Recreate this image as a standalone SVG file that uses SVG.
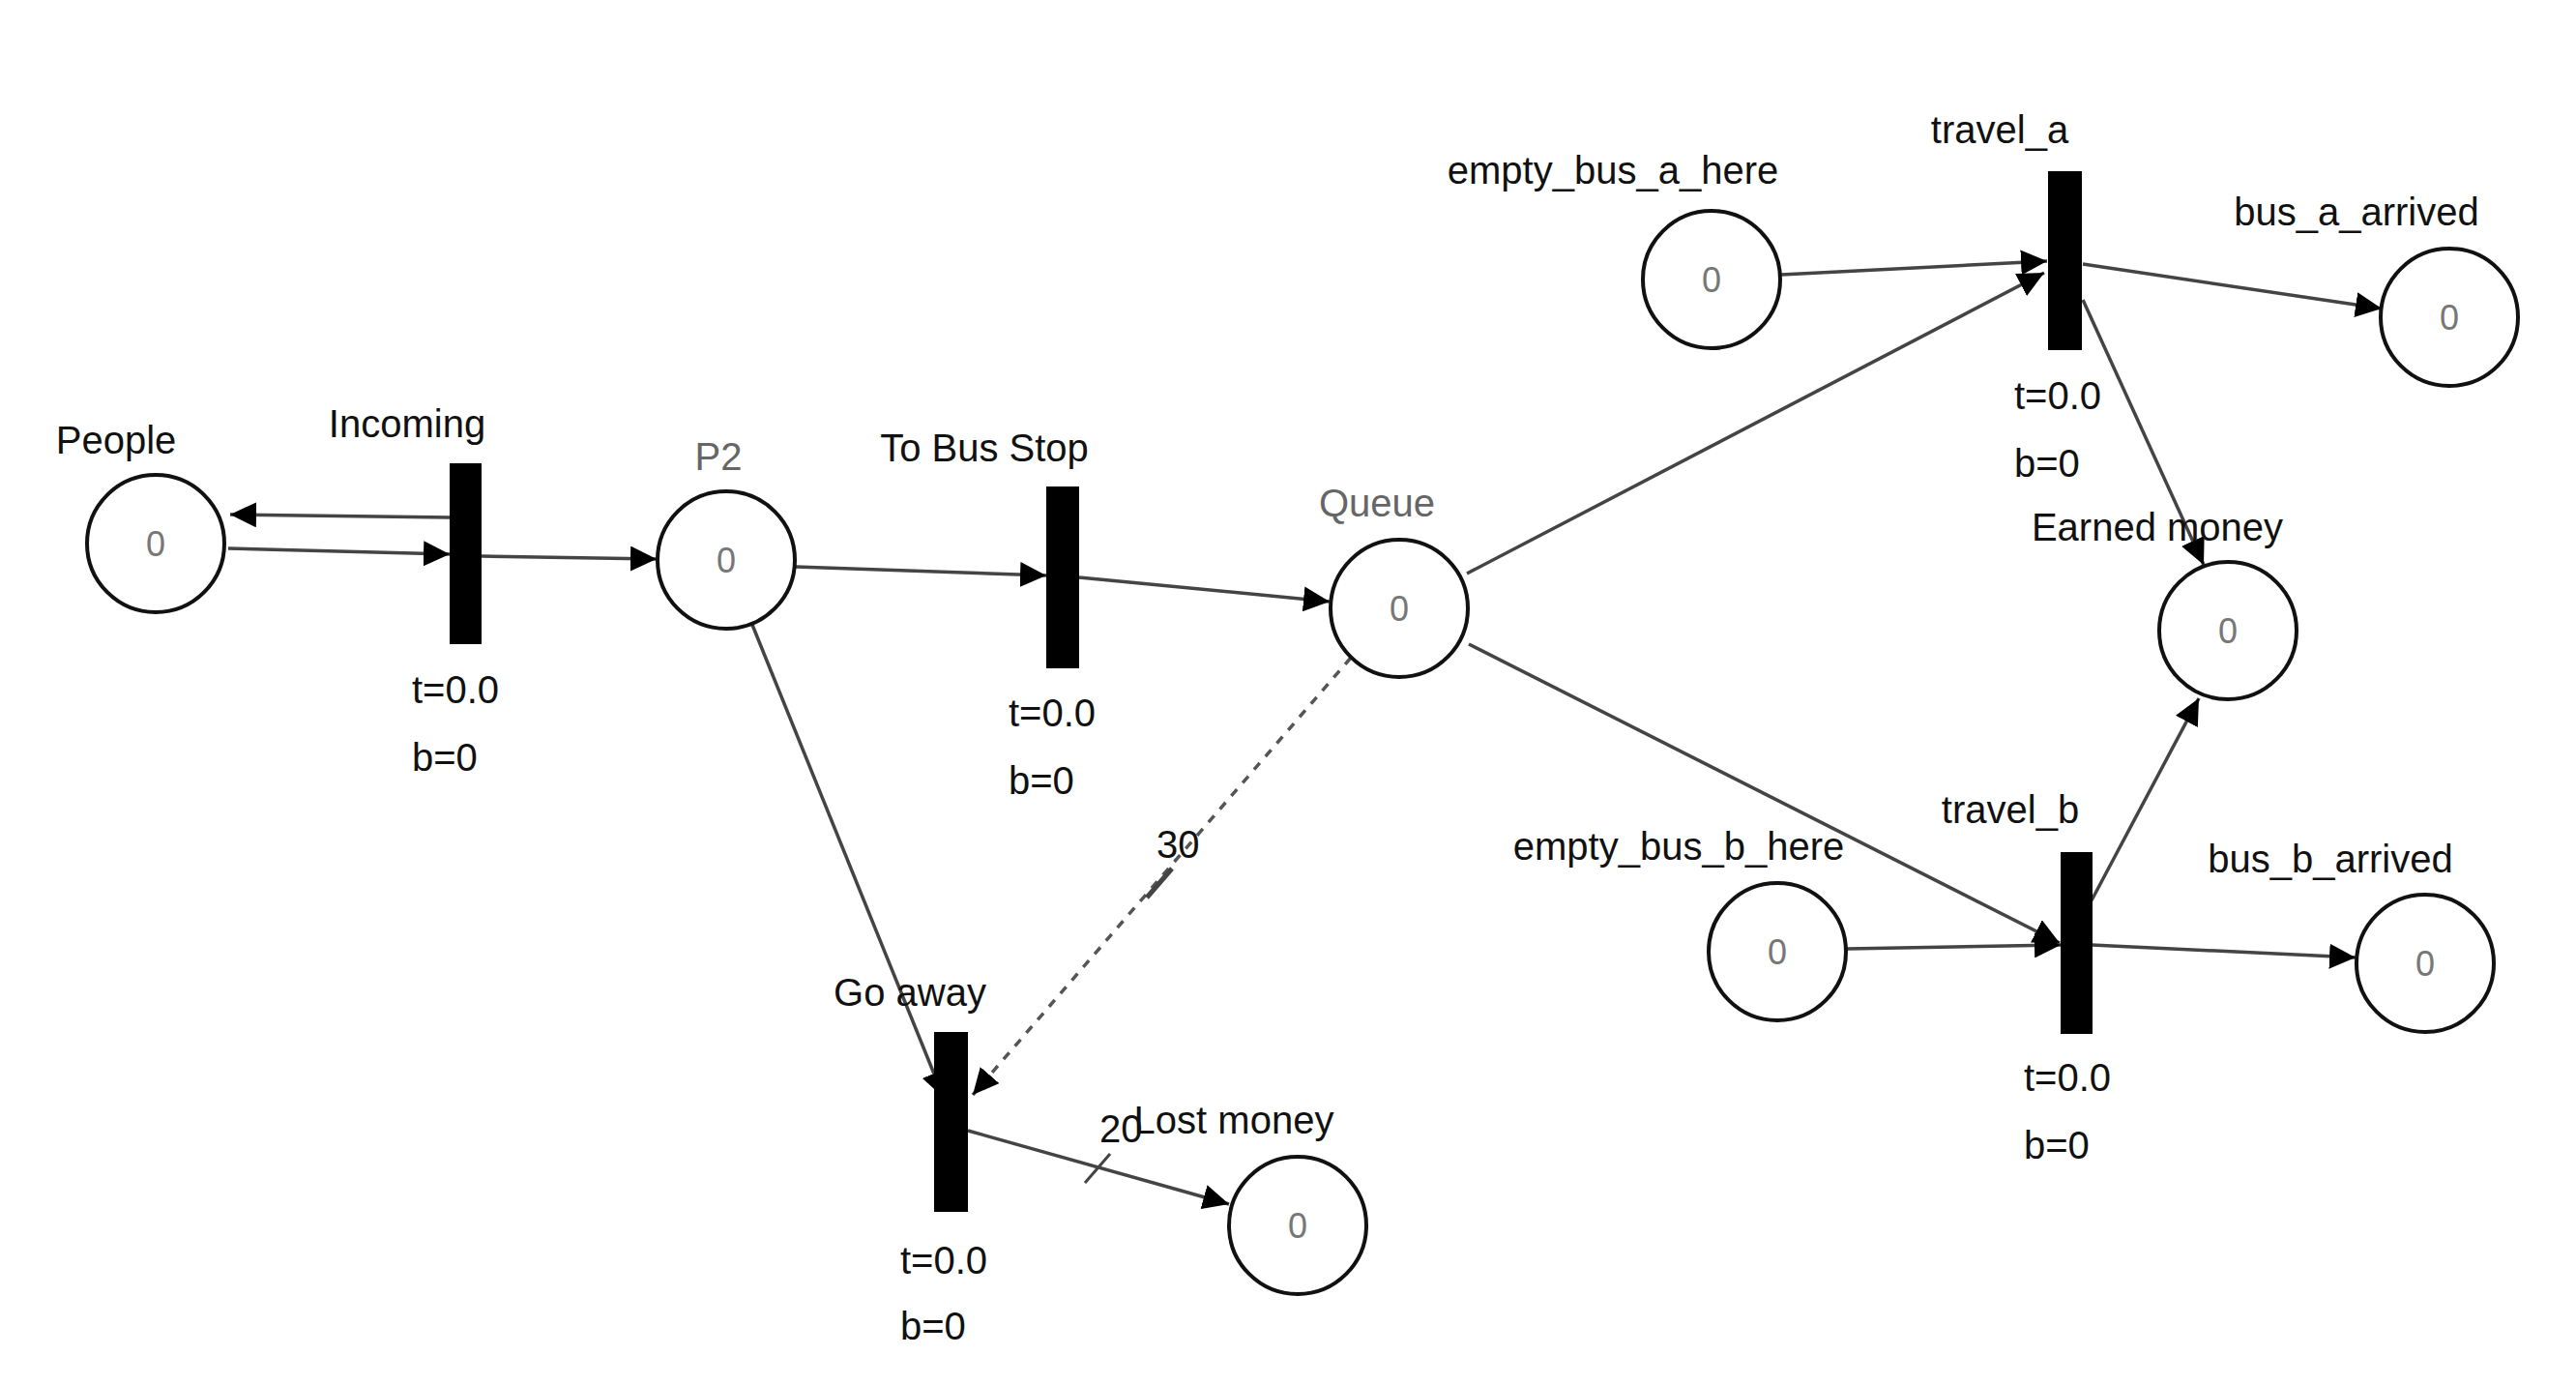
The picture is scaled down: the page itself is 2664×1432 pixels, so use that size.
<svg xmlns="http://www.w3.org/2000/svg" width="2664" height="1432" viewBox="0 0 2664 1432">
<defs>
<marker id="arr" markerUnits="userSpaceOnUse" markerWidth="28" markerHeight="26" refX="27" refY="13" orient="auto">
<path d="M0,0 L27,13 L0,26 z" fill="#000"/>
</marker>
<style>
.pl{fill:#fff;stroke:#111;stroke-width:4}
.tr{fill:#000}
.lb{font-family:"Liberation Sans",Arial,sans-serif;font-size:40px;fill:#111}
.gl{font-family:"Liberation Sans",Arial,sans-serif;font-size:40px;fill:#666}
.tk{font-family:"Liberation Sans",Arial,sans-serif;font-size:36px;fill:#777;text-anchor:middle}
.ar{stroke:#444;stroke-width:3.5;fill:none;marker-end:url(#arr)}
.ds{stroke:#555;stroke-width:3.5;fill:none;stroke-dasharray:9 9;marker-end:url(#arr)}
.tick{stroke:#444;stroke-width:3;fill:none}
</style>
</defs>
<rect width="2664" height="1432" fill="#fff"/>
<g id="connectors">
<line class="ar" x1="465" y1="535" x2="238" y2="532"/>
<line class="ar" x1="236" y1="567" x2="465" y2="573"/>
<line class="ar" x1="498" y1="575" x2="679" y2="578"/>
<line class="ar" x1="823" y1="586" x2="1082" y2="595"/>
<line class="ar" x1="1116" y1="597" x2="1375" y2="622"/>
<line class="ar" x1="778" y1="646" x2="976" y2="1135"/>
<line class="ds" x1="1397" y1="680" x2="1006" y2="1132"/>
<line class="tick" x1="1186" y1="928" x2="1212" y2="898" style="stroke-width:5"/>
<line class="ar" x1="1001" y1="1169" x2="1271" y2="1245"/>
<line class="tick" x1="1122" y1="1223" x2="1148" y2="1193"/>
<line class="ar" x1="1842" y1="284" x2="2117" y2="270"/>
<line class="ar" x1="1517" y1="593" x2="2114" y2="282"/>
<line class="ar" x1="2154" y1="273" x2="2463" y2="319"/>
<line class="ar" x1="2154" y1="310" x2="2279" y2="584"/>
<line class="ar" x1="1519" y1="666" x2="2130" y2="975"/>
<line class="ar" x1="1910" y1="981" x2="2131" y2="977"/>
<line class="ar" x1="2163" y1="977" x2="2436" y2="990"/>
<line class="ar" x1="2163" y1="931" x2="2274" y2="722"/>
</g>
<g id="People"><circle class="pl" cx="161" cy="562" r="71"/><text class="tk" x="161" y="575">0</text><text class="lb" x="120" y="469" text-anchor="middle">People</text></g>
<g id="P2"><circle class="pl" cx="751" cy="579" r="71"/><text class="tk" x="751" y="592">0</text><text class="gl" x="743" y="486" text-anchor="middle">P2</text></g>
<g id="Queue"><circle class="pl" cx="1447" cy="629" r="71"/><text class="tk" x="1447" y="642">0</text><text class="gl" x="1424" y="534" text-anchor="middle">Queue</text></g>
<g id="empty_bus_a_here"><circle class="pl" cx="1770" cy="289" r="71"/><text class="tk" x="1770" y="302">0</text><text class="lb" x="1668" y="190" text-anchor="middle">empty_bus_a_here</text></g>
<g id="bus_a_arrived"><circle class="pl" cx="2533" cy="328" r="71"/><text class="tk" x="2533" y="341">0</text><text class="lb" x="2437" y="233" text-anchor="middle">bus_a_arrived</text></g>
<g id="Earned_money"><circle class="pl" cx="2304" cy="652" r="71"/><text class="tk" x="2304" y="665">0</text><text class="lb" x="2231" y="559" text-anchor="middle">Earned money</text></g>
<g id="empty_bus_b_here"><circle class="pl" cx="1838" cy="984" r="71"/><text class="tk" x="1838" y="997">0</text><text class="lb" x="1736" y="889" text-anchor="middle">empty_bus_b_here</text></g>
<g id="bus_b_arrived"><circle class="pl" cx="2508" cy="996" r="71"/><text class="tk" x="2508" y="1009">0</text><text class="lb" x="2410" y="902" text-anchor="middle">bus_b_arrived</text></g>
<g id="Lost_money"><circle class="pl" cx="1342" cy="1267" r="71"/><text class="tk" x="1342" y="1280">0</text><text class="lb" x="1276" y="1172" text-anchor="middle">Lost money</text></g>
<g id="Incoming"><rect class="tr" x="465" y="479" width="33" height="187"/><text class="lb" x="421" y="452" text-anchor="middle">Incoming</text><text class="lb" x="426" y="727">t=0.0</text><text class="lb" x="426" y="797">b=0</text></g>
<g id="To_Bus_Stop"><rect class="tr" x="1082" y="503" width="34" height="188"/><text class="lb" x="1018" y="477" text-anchor="middle">To Bus Stop</text><text class="lb" x="1043" y="751">t=0.0</text><text class="lb" x="1043" y="821">b=0</text></g>
<g id="Go_away"><rect class="tr" x="966" y="1067" width="35" height="186"/><text class="lb" x="941" y="1040" text-anchor="middle">Go away</text><text class="lb" x="931" y="1317">t=0.0</text><text class="lb" x="931" y="1385">b=0</text></g>
<g id="travel_a"><rect class="tr" x="2118" y="177" width="35" height="185"/><text class="lb" x="2068" y="148" text-anchor="middle">travel_a</text><text class="lb" x="2083" y="423">t=0.0</text><text class="lb" x="2083" y="493">b=0</text></g>
<g id="travel_b"><rect class="tr" x="2131" y="881" width="33" height="188"/><text class="lb" x="2079" y="851" text-anchor="middle">travel_b</text><text class="lb" x="2093" y="1128">t=0.0</text><text class="lb" x="2093" y="1198">b=0</text></g>
<g id="arc_labels"><text class="lb" x="1196" y="887">30</text><text class="lb" x="1137" y="1181">20</text></g>
</svg>
